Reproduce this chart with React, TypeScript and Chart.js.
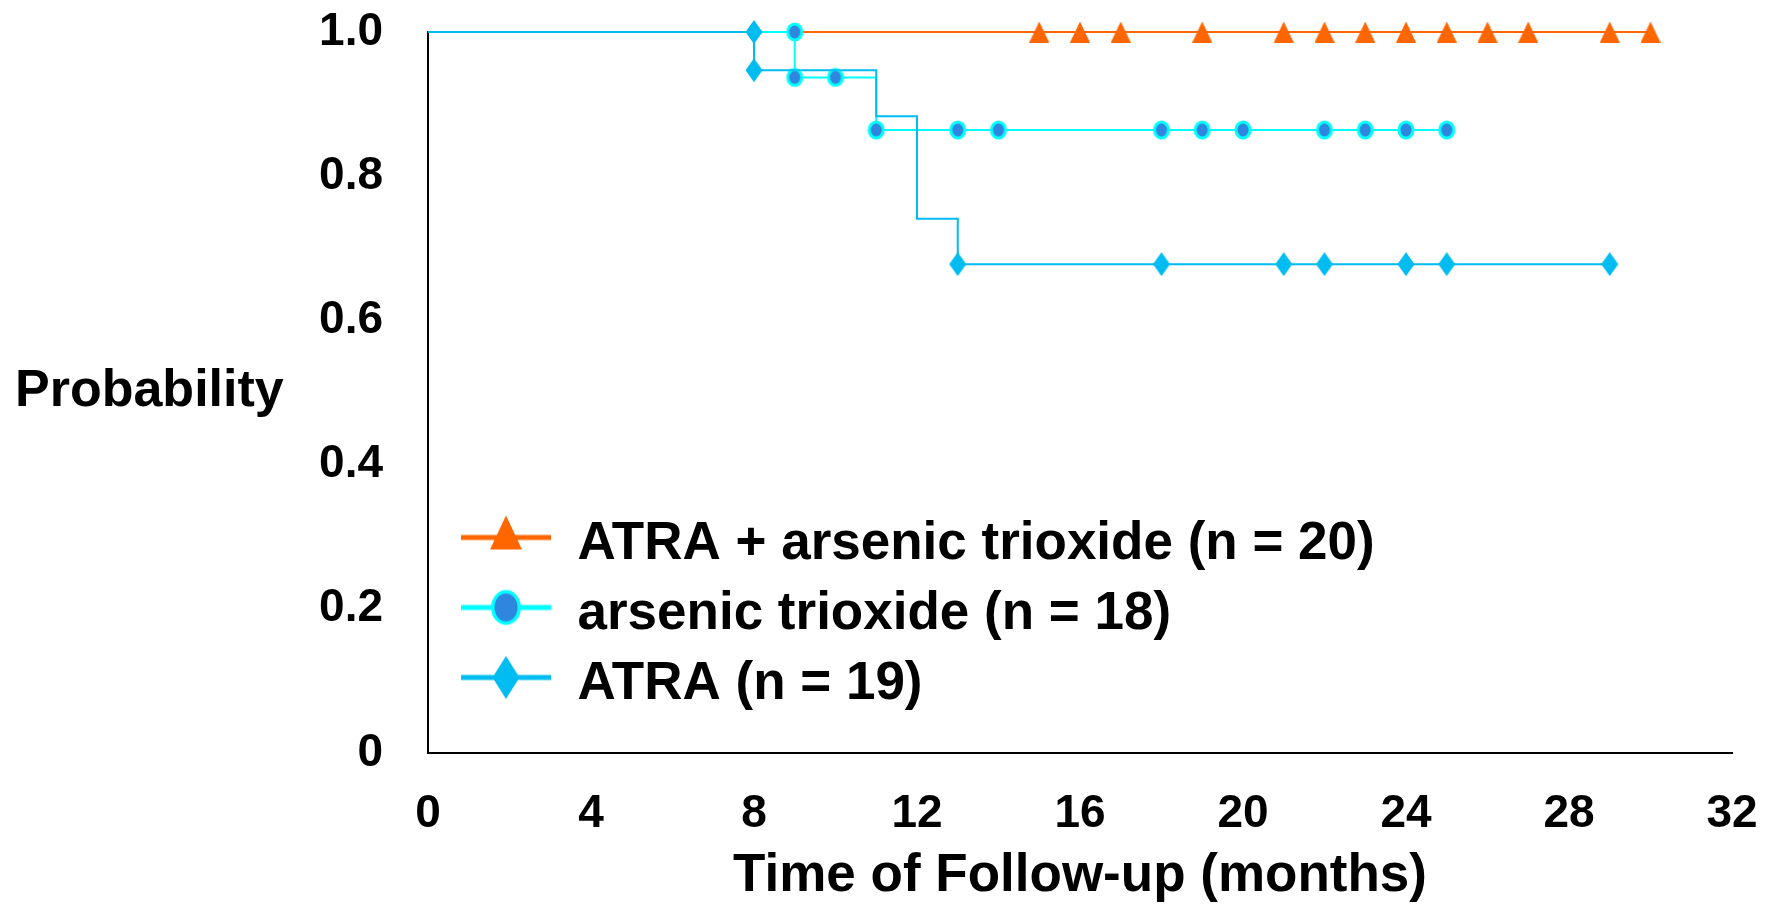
import React, { useEffect, useRef } from 'react';
import { Chart, registerables } from 'chart.js';

Chart.register(...registerables);

// ---------- data ----------
const X_TICKS = [0, 4, 8, 12, 16, 20, 24, 28, 32];
const Y_TICKS = [0, 0.2, 0.4, 0.6, 0.8, 1.0];
const Y_TICK_LABELS = ['0', '0.2', '0.4', '0.6', '0.8', '1.0'];
const X_TITLE = 'Time of Follow-up (months)';
const Y_TITLE = 'Probability';
const SERIES_LABELS = [
  'ATRA + arsenic trioxide (n = 20)',
  'arsenic trioxide (n = 18)',
  'ATRA (n = 19)',
];

// Kaplan-Meier step vertices (months, probability) and censor marks (1 = mark)
const COMBO_MONTHS = [0, 15, 16, 17, 19, 21, 22, 23, 24, 25, 26, 27, 29, 30];
const COMBO_PROB = [1, 1, 1, 1, 1, 1, 1, 1, 1, 1, 1, 1, 1, 1];
const COMBO_MARKS = [0, 1, 1, 1, 1, 1, 1, 1, 1, 1, 1, 1, 1, 1];

const ATO_MONTHS = [0, 9, 9, 10, 11, 11, 13, 14, 18, 19, 20, 22, 23, 24, 25];
const ATO_PROB = [1, 1, 0.937, 0.937, 0.937, 0.864, 0.864, 0.864, 0.864, 0.864, 0.864, 0.864, 0.864, 0.864, 0.864];
const ATO_MARKS = [0, 1, 1, 1, 0, 1, 1, 1, 1, 1, 1, 1, 1, 1, 1];

const ATRA_MONTHS = [0, 8, 8, 11, 11, 12, 12, 13, 13, 18, 21, 22, 24, 25, 29];
const ATRA_PROB = [1, 1, 0.947, 0.947, 0.883, 0.883, 0.741, 0.741, 0.678, 0.678, 0.678, 0.678, 0.678, 0.678, 0.678];
const ATRA_MARKS = [0, 1, 1, 0, 0, 0, 0, 0, 1, 1, 1, 1, 1, 1, 1];

// ---------- styles ----------
const ORANGE = '#FF6600';
const CYAN = '#00FFFF';
const DOT_BLUE = '#2E86DE';
const ATRA_BLUE = '#00BCF0';
const FAMILY = "'Liberation Sans', Arial, Helvetica, sans-serif";

function makeCanvas(w: number, h: number, draw: (ctx: CanvasRenderingContext2D) => void) {
  const c = document.createElement('canvas');
  c.width = w;
  c.height = h;
  const ctx = c.getContext('2d') as CanvasRenderingContext2D;
  draw(ctx);
  return c;
}

function tri(ctx: CanvasRenderingContext2D, cx: number, top: number, bottom: number, hw: number, color: string) {
  ctx.beginPath();
  ctx.moveTo(cx, top);
  ctx.lineTo(cx + hw, bottom);
  ctx.lineTo(cx - hw, bottom);
  ctx.closePath();
  ctx.fillStyle = color;
  ctx.fill();
}

function dia(ctx: CanvasRenderingContext2D, cx: number, cy: number, hw: number, hh: number, color: string) {
  ctx.beginPath();
  ctx.moveTo(cx, cy - hh);
  ctx.lineTo(cx + hw, cy);
  ctx.lineTo(cx, cy + hh);
  ctx.lineTo(cx - hw, cy);
  ctx.closePath();
  ctx.fillStyle = color;
  ctx.fill();
}

function ring(ctx: CanvasRenderingContext2D, cx: number, cy: number, rx: number, ry: number, w: number) {
  ctx.beginPath();
  ctx.ellipse(cx, cy, rx, ry, 0, 0, Math.PI * 2);
  ctx.fillStyle = CYAN;
  ctx.fill();
  ctx.beginPath();
  ctx.ellipse(cx, cy, rx - w, ry - w, 0, 0, Math.PI * 2);
  ctx.fillStyle = DOT_BLUE;
  ctx.fill();
}

function buildMarkers() {
  const triMark = makeCanvas(20, 21, (c) => tri(c, 10, 0, 21, 10, ORANGE));
  const ringMark = makeCanvas(18, 20, (c) => ring(c, 9, 10, 8.5, 9.5, 3));
  const diaMark = makeCanvas(18, 24, (c) => dia(c, 9, 12, 8.5, 12, ATRA_BLUE));
  // legend swatches: image centred on the text line, marker line sits a little above it
  const W = 106, H = 60, cy = 23, cx = 61;
  const legendLine = (c: CanvasRenderingContext2D, color: string) => {
    c.fillStyle = color;
    c.fillRect(16, cy - 2.5, W - 16, 5);
  };
  const triLeg = makeCanvas(W, H, (c) => { legendLine(c, ORANGE); tri(c, cx, cy - 22, cy + 12, 16, ORANGE); });
  const ringLeg = makeCanvas(W, H, (c) => { legendLine(c, CYAN); ring(c, cx, cy, 15, 17.5, 3.5); });
  const diaLeg = makeCanvas(W, H, (c) => { legendLine(c, ATRA_BLUE); dia(c, cx, cy, 13.5, 21.5, ATRA_BLUE); });
  return { triMark, ringMark, diaMark, legend: [triLeg, ringLeg, diaLeg] };
}

const toPoints = (xs: number[], ys: number[]) => xs.map((x, i) => ({ x, y: ys[i] }));

const yTitlePlugin = {
  id: 'yTitleHorizontal',
  afterDraw(chart: any) {
    const { ctx, chartArea } = chart;
    ctx.save();
    ctx.font = `bold 52px ${FAMILY}`;
    ctx.fillStyle = '#000';
    ctx.textAlign = 'left';
    ctx.textBaseline = 'alphabetic';
    ctx.fillText(Y_TITLE, 15, (chartArea.top + chartArea.bottom) / 2 + 13);
    ctx.restore();
  },
};

const legendNudgePlugin = {
  id: 'legendNudge',
  afterLayout(chart: any) {
    const l = chart.legend;
    if (l) {
      l.top += 7;
      l.bottom += 7;
    }
  },
};

export default function App() {
  const ref = useRef<HTMLCanvasElement | null>(null);

  useEffect(() => {
    if (!ref.current) return;
    const m = buildMarkers();
    const series = [
      { months: COMBO_MONTHS, prob: COMBO_PROB, marks: COMBO_MARKS, color: ORANGE, img: m.triMark, order: 3 },
      { months: ATO_MONTHS, prob: ATO_PROB, marks: ATO_MARKS, color: CYAN, img: m.ringMark, order: 2 },
      { months: ATRA_MONTHS, prob: ATRA_PROB, marks: ATRA_MARKS, color: ATRA_BLUE, img: m.diaMark, order: 1 },
    ];
    const chart = new Chart(ref.current, {
      type: 'line',
      data: {
        datasets: series.map((s, i) => ({
          label: SERIES_LABELS[i],
          data: toPoints(s.months, s.prob),
          borderColor: s.color,
          backgroundColor: s.color,
          borderWidth: 2,
          stepped: 'before',
          fill: false,
          tension: 0,
          pointStyle: s.img,
          pointRadius: s.marks.map((k) => (k ? 6 : 0)),
          pointHoverRadius: s.marks.map((k) => (k ? 6 : 0)),
          clip: false,
          order: s.order,
        })),
      } as any,
      options: {
        responsive: true,
        maintainAspectRatio: false,
        animation: false,
        events: [],
        layout: { padding: { top: 32, right: 36, bottom: 0, left: 0 } },
        scales: {
          x: {
            type: 'linear',
            min: 0,
            max: 32,
            afterBuildTicks: (s: any) => { s.ticks = X_TICKS.map((v) => ({ value: v })); },
            afterFit: (s: any) => { s.height = 153; s.paddingLeft = 0; s.paddingRight = 0; },
            grid: { display: false, drawTicks: false },
            border: { display: true, color: '#000', width: 2 },
            ticks: {
              padding: 34,
              color: '#000',
              autoSkip: false,
              maxRotation: 0,
              font: { family: FAMILY, size: 46, weight: 'bold' },
              callback: (v: any) => String(v),
            },
            title: {
              display: true,
              text: X_TITLE,
              color: '#000',
              font: { family: FAMILY, size: 53, weight: 'bold' },
              padding: { top: 0, bottom: -2 },
            },
          },
          y: {
            type: 'linear',
            min: 0,
            max: 1,
            afterBuildTicks: (s: any) => { s.ticks = Y_TICKS.map((v) => ({ value: v })); },
            afterFit: (s: any) => { s.width = 428; s.paddingTop = 0; s.paddingBottom = 0; },
            grid: { display: false, drawTicks: false },
            border: { display: true, color: '#000', width: 2 },
            ticks: {
              padding: 45,
              color: '#000',
              autoSkip: false,
              font: { family: FAMILY, size: 46, weight: 'bold' },
              callback: (_v: any, i: number) => Y_TICK_LABELS[i],
            },
          },
        },
        plugins: {
          tooltip: { enabled: false },
          legend: {
            position: 'chartArea',
            align: 'end',
            labels: {
              usePointStyle: true,
              pointStyleWidth: 106,
              padding: 17,
              color: '#000',
              font: { family: FAMILY, size: 53, weight: 'bold' },
              sort: (a: any, b: any) => a.datasetIndex - b.datasetIndex,
              generateLabels: (c: any) => {
                const items = (Chart.defaults.plugins.legend.labels.generateLabels as any)(c);
                return items.map((it: any) => ({ ...it, pointStyle: m.legend[it.datasetIndex], fontColor: '#000' }));
              },
            },
          },
        },
      } as any,
      plugins: [yTitlePlugin, legendNudgePlugin],
    });
    return () => chart.destroy();
  }, []);

  return (
    <div style={{ position: 'fixed', left: 0, top: 0, width: 1768, height: 906, background: '#fff' }}>
      <canvas ref={ref} />
    </div>
  );
}
